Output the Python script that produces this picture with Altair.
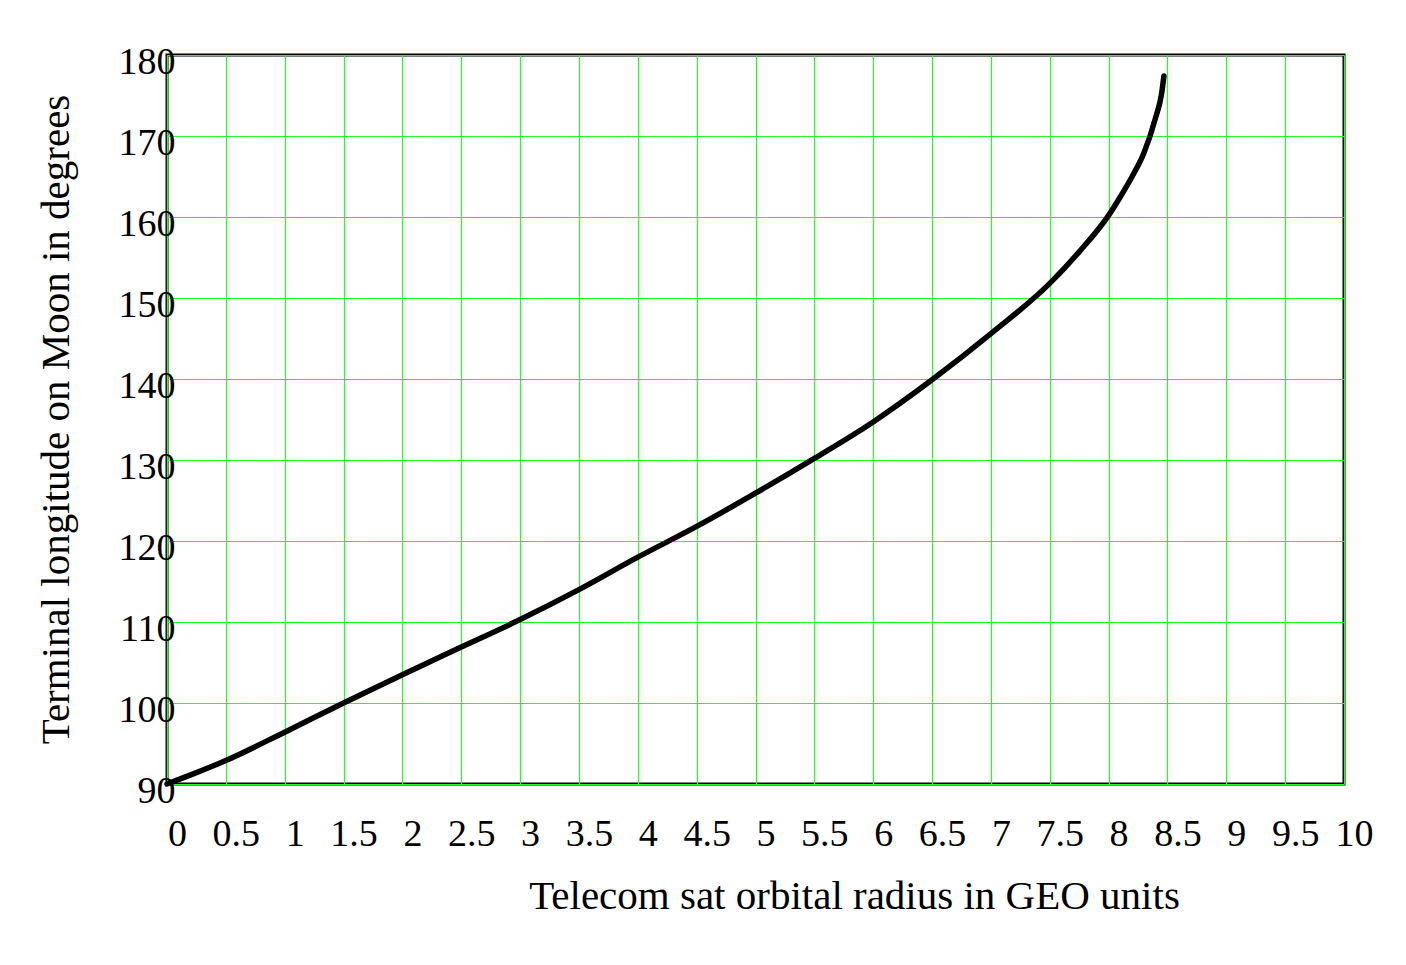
import altair as alt
import pandas as pd

# Curve
radius = [0, 0.25, 0.5, 1, 1.5, 2, 2.5, 3, 3.5, 4, 4.5, 5, 5.5, 6, 6.5, 7,
          7.5, 7.75, 8, 8.1, 8.2, 8.3, 8.4, 8.45, 8.47]
longitude = [90, 91.4, 92.9, 96.4, 100.0, 103.5, 106.9, 110.3, 114.0, 118.0,
             121.8, 125.9, 130.2, 134.7, 139.9, 145.6, 151.8, 155.7, 160.2,
             162.5, 165.0, 167.9, 172.3, 175.2, 177.4]

x_ticks = [0, 0.5, 1, 1.5, 2, 2.5, 3, 3.5, 4, 4.5, 5, 5.5, 6, 6.5, 7, 7.5,
           8, 8.5, 9, 9.5, 10]
y_ticks = [90, 100, 110, 120, 130, 140, 150, 160, 170, 180]

df = pd.DataFrame({"r": radius, "lon": longitude})

FONT = "Liberation Serif"
GRID = "#22ff22"

chart = alt.Chart(df).mark_line(
    color="black", strokeWidth=5.5, strokeCap="round", strokeJoin="round",
    interpolate="monotone"
).encode(
    x=alt.X("r:Q", scale=alt.Scale(domain=[0, 10], nice=False, zero=False),
            axis=alt.Axis(
                title="Telecom sat orbital radius in GEO units",
                values=x_ticks, format="~g", domain=False, ticks=False,
                tickSize=0, grid=True, gridColor=GRID, gridWidth=1.2,
                gridOpacity=1,
                labelFont=FONT, labelFontSize=38, labelColor="black",
                labelAlign="center", labelOffset=10, labelBaseline="alphabetic",
                labelPadding=61, labelFlush=False, labelOverlap=False,
                titleFont=FONT, titleFontSize=41, titleFontWeight="normal",
                titleColor="black", titleX=687, titleY=124,
                titleAlign="center", titleBaseline="alphabetic")),
    y=alt.Y("lon:Q", scale=alt.Scale(domain=[90, 180], nice=False, zero=False),
            axis=alt.Axis(
                title="Terminal longitude on Moon in degrees",
                values=y_ticks, format="d", domain=False, ticks=False,
                tickSize=0, grid=True, gridColor=GRID, gridWidth=1.2,
                gridOpacity=1,
                labelFont=FONT, labelFontSize=38, labelColor="black",
                labelAlign="right", labelBaseline="middle", labelOffset=7,
                labelPadding=-8, labelFlush=False, labelOverlap=False,
                titleFont=FONT, titleFontSize=41, titleFontWeight="normal",
                titleColor="black", titleAngle=-90, titleX=-111, titleY=364,
                titleAlign="center", titleBaseline="middle")),
).properties(
    width=1177, height=729,
    autosize=alt.AutoSizeParams(type="none"),
    padding={"left": 159, "top": 47, "right": 40, "bottom": 160},
    background="white",
).configure_view(
    stroke="black", strokeWidth=3
)

chart.save("out.html", embed_options={"renderer": "svg", "actions": False})
